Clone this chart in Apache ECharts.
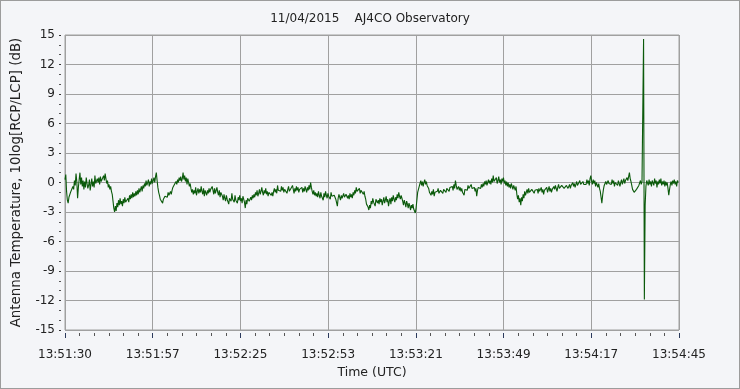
<!DOCTYPE html>
<html>
<head>
<meta charset="utf-8">
<script src="https://cdn.jsdelivr.net/npm/echarts@6/dist/echarts.min.js"></script>
<style>
html,body{margin:0;padding:0;background:#f4f5f8;}
#c{width:740px;height:389px;box-sizing:border-box;border:1px solid #9c9c9c;}
</style>
</head>
<body>
<div id="c"></div>
<script>
const chartTitle = '11/04/2015    AJ4CO Observatory';
const xAxisName = 'Time (UTC)';
const yAxisName = 'Antenna Temperature, 10log[RCP/LCP] (dB)';
const xTickLabels = ['13:51:30','13:51:57','13:52:25','13:52:53','13:53:21','13:53:49','13:54:17','13:54:45'];
const durationSeconds = 195;
const sampleStepSeconds = 0.25;
const yMin = -15, yMax = 15, yStep = 3;
// 10log[RCP/LCP] in dB, one value every 0.25 s from 13:51:30 (20 values = 5 s per row)
const ratioDb = [
  0.3,0.8,-0.9,-1.8,-2.1,-1.5,-1.7,-1.0,-0.8,-1.2,-0.4,-0.7,0.2,-0.3,0.9,0.1,-1.6,-0.5,0.3,1.0,
  -0.2,0.5,-0.4,0.2,-0.7,0.1,-0.5,0.5,-0.1,-0.6,-0.3,0.3,-0.8,-0.2,0.4,-0.4,0.1,-0.5,0.7,-0.1,
  -0.3,0.4,0.0,0.5,-0.2,0.6,0.1,0.3,-0.1,0.7,0.2,0.9,0.4,-0.1,0.2,-0.5,-0.2,-0.7,-0.4,-0.9,
  -1.2,-1.9,-2.6,-3.0,-2.4,-2.9,-2.1,-2.5,-1.8,-2.3,-1.6,-2.2,-1.9,-2.4,-1.7,-2.1,-1.5,-2.0,-1.8,-2.2,
  -1.6,-2.0,-1.3,-1.7,-1.2,-1.6,-1.0,-1.5,-1.1,-1.4,-0.9,-1.3,-0.8,-1.2,-0.6,-1.0,-0.7,-0.4,-0.9,-0.3,
  -0.6,-0.1,-0.4,0.2,-0.3,-0.1,0.3,-0.4,0.1,-0.2,0.4,-0.1,0.2,0.5,0.0,0.6,1.0,0.2,-0.5,-1.0,
  -1.3,-1.7,-1.5,-1.9,-2.1,-1.7,-1.9,-1.4,-1.6,-1.2,-1.5,-1.0,-1.3,-1.1,-0.9,-1.2,-0.8,-0.5,-0.7,-0.2,
  -0.4,0.1,-0.2,0.3,0.0,0.5,0.2,0.6,0.1,0.4,1.0,0.3,0.7,0.1,0.5,-0.2,0.4,0.0,-0.4,-0.1,
  -0.6,-1.0,-0.7,-1.2,-0.8,-1.1,-0.5,-1.3,-0.9,-0.6,-1.1,-0.7,-1.0,-0.4,-0.9,-1.2,-0.6,-1.4,-0.8,-1.0,
  -1.3,-0.8,-1.1,-0.6,-1.0,-0.7,-0.9,-0.4,-0.8,-1.2,-0.6,-1.1,-0.9,-0.5,-1.0,-1.3,-0.8,-1.5,-1.0,-1.2,
  -1.4,-1.8,-1.2,-1.6,-1.9,-1.3,-1.7,-1.5,-2.2,-1.6,-1.4,-1.9,-1.1,-1.7,-1.5,-2.0,-1.3,-1.8,-1.6,-2.1,
  -1.5,-1.8,-1.3,-1.9,-1.6,-2.1,-1.4,-1.7,-2.0,-2.6,-1.8,-2.2,-1.6,-1.4,-1.9,-2.1,-1.5,-1.8,-1.3,-1.6,
  -1.2,-1.5,-1.0,-1.3,-0.8,-1.4,-1.1,-0.7,-1.2,-0.9,-0.5,-1.0,-1.3,-0.8,-1.1,-0.6,-1.2,-0.9,-1.4,-1.0,
  -1.2,-0.8,-1.3,-1.0,-1.4,-0.9,-0.6,-1.0,-0.7,-1.1,-0.3,-0.8,-1.0,-0.6,-0.9,-0.4,-0.8,-0.5,-1.0,-0.7,
  -0.9,-0.5,-1.1,-0.7,-0.4,-0.9,-1.0,-0.6,-0.8,-0.3,-0.7,-1.1,-0.6,-0.9,-0.4,-0.8,-0.5,-1.0,-0.7,-0.5,
  -0.8,-0.5,-1.0,-0.6,-0.9,-0.4,-0.7,-1.0,-0.5,-0.8,-0.3,-0.7,0.0,-0.5,-0.9,-1.2,-0.8,-1.3,-1.0,-1.4,
  -1.1,-1.5,-0.9,-1.3,-1.6,-1.0,-1.4,-1.2,-1.8,-1.1,-1.5,-0.9,-1.3,-1.6,-1.1,-1.4,-1.2,-1.7,-1.0,-1.4,
  -1.2,-1.6,-1.3,-1.1,-1.7,-1.5,-2.4,-1.6,-1.2,-1.5,-1.8,-1.3,-1.6,-1.4,-1.1,-1.5,-1.7,-1.2,-1.4,-1.6,
  -1.3,-1.7,-1.1,-1.5,-1.2,-1.6,-1.0,-1.3,-0.8,-1.1,-0.5,-0.9,-0.7,-1.0,-0.6,-1.1,-0.8,-0.6,-1.0,-1.2,
  -0.9,-1.4,-1.7,-2.2,-2.0,-2.5,-2.8,-2.3,-2.6,-1.9,-2.2,-1.6,-2.0,-1.8,-2.4,-1.7,-1.5,-2.1,-1.8,-2.2,
  -1.6,-2.0,-1.7,-2.3,-1.9,-1.5,-2.1,-1.8,-1.4,-2.0,-1.7,-2.4,-1.9,-1.6,-2.2,-1.5,-1.9,-1.3,-1.7,-2.0,
  -1.5,-1.8,-1.2,-1.6,-1.0,-1.4,-1.7,-1.3,-1.6,-1.9,-2.3,-1.8,-2.1,-2.5,-1.9,-2.2,-2.6,-2.1,-2.4,-2.8,
  -2.3,-2.6,-2.2,-2.7,-2.9,-3.1,-2.6,-1.8,-1.0,-0.7,-0.4,-0.1,0.2,-0.3,0.1,-0.4,0.0,0.3,-0.2,0.1,
  -0.3,-0.1,-0.6,-1.0,-0.8,-1.3,-0.9,-1.2,-0.7,-1.4,-1.0,-0.8,-1.2,-0.9,-0.6,-1.1,-1.3,-0.8,-1.0,-0.7,
  -1.1,-0.7,-0.9,-0.5,-1.0,-0.6,-0.8,-0.4,-0.9,-0.5,-0.3,-0.7,-0.4,-0.8,-0.2,-0.6,0.2,-0.3,-0.7,-0.5,
  -0.4,-0.8,-0.5,-0.9,-0.6,-1.0,-0.8,-1.3,-0.7,-0.9,-0.5,-0.8,-0.3,-0.6,-0.4,-0.7,-0.2,-0.6,-0.4,-0.8,
  -0.5,-0.9,-0.6,-1.4,-0.8,-0.5,-0.7,-0.3,-0.6,-0.2,-0.5,-0.1,-0.4,0.1,-0.2,0.2,-0.3,0.0,0.3,-0.1,
  0.2,-0.2,0.4,0.0,0.7,0.1,-0.1,0.3,0.5,-0.1,0.2,0.6,0.0,0.3,-0.2,0.4,0.1,0.5,-0.1,0.2,
  -0.3,0.1,-0.4,0.0,-0.5,-0.2,-0.6,-0.1,-0.4,-0.7,-0.3,-0.5,-0.8,-0.4,-1.2,-1.7,-1.3,-2.0,-1.6,-2.3,
  -1.5,-1.9,-1.2,-1.6,-0.9,-1.3,-1.0,-0.7,-1.1,-0.6,-1.0,-0.8,-1.2,-0.7,-0.9,-0.5,-1.1,-0.8,-0.6,-1.0,
  -0.7,-1.1,-0.6,-0.9,-0.8,-0.5,-1.0,-0.7,-1.2,-0.8,-0.6,-0.9,-0.5,-1.0,-0.7,-0.4,-0.9,-0.6,-1.0,-0.7,
  -0.8,-0.4,-0.7,-0.3,-0.6,-0.9,-0.5,-0.2,-0.6,-0.4,-0.8,-0.3,-0.5,-0.1,-0.6,-0.4,-0.7,-0.3,-0.5,-0.6,
  -0.4,-0.2,-0.6,-0.3,-0.5,0.0,-0.4,-0.1,-0.5,-0.2,0.1,-0.3,-0.1,-0.4,0.2,-0.2,0.0,-0.3,0.1,-0.2,
  -0.4,0.0,-0.2,0.3,-0.1,0.2,-0.3,0.4,0.7,0.1,-0.2,0.3,-0.1,0.2,-0.4,0.0,-0.2,-0.5,-0.1,-0.6,
  -0.9,-1.5,-2.1,-1.3,-0.7,-0.3,-0.5,0.1,-0.2,-0.4,0.2,-0.1,-0.3,0.1,-0.2,0.3,-0.1,0.2,-0.4,0.0,
  -0.2,0.1,-0.3,0.2,-0.1,-0.4,0.0,0.3,-0.2,0.1,0.4,-0.1,0.2,0.0,0.5,0.2,0.6,1.0,0.4,0.1,
  -0.3,-0.7,-0.5,-1.0,-0.8,-1.1,-0.7,-0.9,-0.6,-0.3,-0.1,0.2,-0.2,0.1,-0.1,14.6,-11.9,-2.3,-0.4,0.2,
  0.0,-0.3,0.3,-0.2,0.1,-0.4,0.2,0.0,-0.3,0.4,-0.1,0.2,-0.5,0.1,-0.2,0.3,-0.1,0.4,-0.3,0.1,
  -0.2,0.2,-0.4,0.1,-0.3,0.0,-0.6,-1.3,-0.7,-0.2,0.1,-0.3,0.2,-0.1,0.3,-0.2,0.1,-0.4,0.2,0.0,
  0.3
];

const seriesData = ratioDb.map((v, i) => [i * sampleStepSeconds, v]);
const xInterval = durationSeconds / (xTickLabels.length - 1);
const font = 'DejaVu Sans';

const chart = echarts.init(document.getElementById('c'), null, {renderer: 'canvas'});
chart.setOption({
  backgroundColor: '#f4f5f8',
  animation: false,
  graphic: [{
    type: 'text', left: 'center', top: 12,
    style: {text: chartTitle, font: '12px "DejaVu Sans"', fill: '#222', textAlign: 'center'},
    x: 2
  }],
  grid: {left: 64, right: 60, top: 34, bottom: 58, show: true, borderColor: '#a0a0a0', borderWidth: 1, backgroundColor: '#f4f5f8', containLabel: false},
  xAxis: {
    type: 'value', min: 0, max: durationSeconds, interval: xInterval,
    offset: 3,
    name: xAxisName, nameLocation: 'middle', nameGap: 33,
    nameTextStyle: {fontFamily: font, fontSize: 12.5, color: '#222'},
    axisLine: {show: true, onZero: false, lineStyle: {color: '#f4f5f8', opacity: 0}},
    axisTick: {show: true, length: 5, lineStyle: {color: '#2b3a5c', width: 1}},
    minorTick: {show: true, splitNumber: 6, length: 3, lineStyle: {color: '#555', width: 1}},
    axisLabel: {margin: 16, fontFamily: font, fontSize: 12, color: '#222',
      formatter: v => xTickLabels[Math.round(v / xInterval)] || ''},
    splitLine: {show: true, lineStyle: {color: '#a0a0a0', width: 1}}
  },
  yAxis: {
    type: 'value', min: yMin, max: yMax, interval: yStep,
    offset: 4,
    name: yAxisName, nameLocation: 'middle', nameGap: 38, nameRotate: 90,
    nameTextStyle: {fontFamily: font, fontSize: 13.4, color: '#222'},
    axisLine: {show: true, onZero: false, lineStyle: {color: '#f4f5f8', opacity: 0}},
    axisTick: {show: true, length: 2, lineStyle: {color: '#333', width: 1}},
    minorTick: {show: true, splitNumber: 3, length: 2, lineStyle: {color: '#555', width: 1}},
    axisLabel: {margin: 6, fontFamily: font, fontSize: 12, color: '#222'},
    splitLine: {show: true, lineStyle: {color: '#a0a0a0', width: 1}}
  },
  series: [{
    type: 'line', data: seriesData, showSymbol: false, sampling: false,
    lineStyle: {color: '#0b5a0b', width: 1.1}, itemStyle: {color: '#0b5a0b'},
    clip: true
  }]
});
</script>
</body>
</html>
